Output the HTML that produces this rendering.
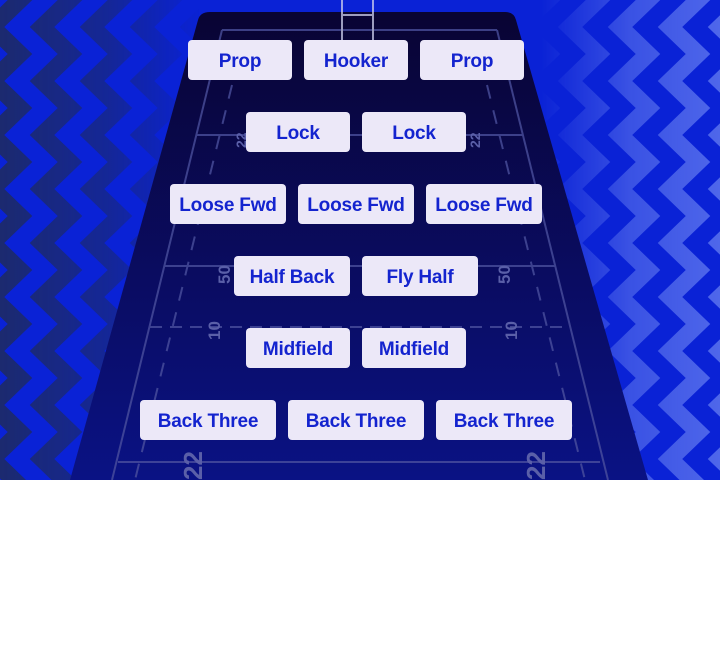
<!DOCTYPE html>
<html><head><meta charset="utf-8"><style>
body{margin:0;width:720px;height:648px;background:#fff;overflow:hidden;font-family:"Liberation Sans",sans-serif}
#wrap{position:relative;width:720px;height:480px;overflow:hidden;background:#0a22d6}
svg{position:absolute;left:0;top:0}
.pos{position:absolute;height:40px;background:#ece8f8;border-radius:4px;color:#1424cf;font-weight:bold;font-size:19px;line-height:43px;text-align:center;letter-spacing:-0.2px}
</style></head><body>
<div id="wrap">
<svg width="720" height="480">
<defs>
<linearGradient id="fadeL" x1="0" x2="1"><stop offset="0" stop-color="#fff" stop-opacity="1"/><stop offset="0.55" stop-color="#fff" stop-opacity="0.6"/><stop offset="1" stop-color="#fff" stop-opacity="0"/></linearGradient>
<mask id="mL"><rect x="0" y="0" width="200" height="480" fill="url(#fadeL)"/></mask>
<linearGradient id="fadeR" x1="0" x2="1"><stop offset="0" stop-color="#fff" stop-opacity="0"/><stop offset="0.5" stop-color="#fff" stop-opacity="0.7"/><stop offset="1" stop-color="#fff" stop-opacity="1"/></linearGradient>
<mask id="mR"><rect x="540" y="0" width="180" height="480" fill="url(#fadeR)"/></mask>
<linearGradient id="fg" x1="0" y1="0" x2="0" y2="1"><stop offset="0" stop-color="#090433"/><stop offset="1" stop-color="#0a1284"/></linearGradient>
</defs>
<g id="chevL" mask="url(#mL)"></g>
<g id="chevR" mask="url(#mR)"></g>
<path d="M210 12 L505 12 Q514 12 516 20 L648 480 L70 480 L198 20 Q200 12 210 12 Z" fill="url(#fg)"/>
<g stroke="#4e53a0" stroke-width="2" fill="none" opacity="0.75">
<line x1="222" y1="30" x2="112" y2="480"/>
<line x1="497" y1="30" x2="608" y2="480"/>
<line x1="222" y1="30" x2="497" y2="30"/>
<line x1="196" y1="135" x2="523" y2="135"/>
<line x1="165" y1="266" x2="556" y2="266"/>
<line x1="118" y1="462" x2="600" y2="462"/>
<line x1="150" y1="327" x2="570" y2="327" stroke-dasharray="12 8"/>
<line x1="232" y1="85" x2="135" y2="480" stroke-dasharray="14 12"/>
<line x1="487" y1="85" x2="585" y2="480" stroke-dasharray="14 12"/>
<line x1="342" y1="0" x2="342" y2="40" stroke="#cfd0ee"/>
<line x1="373" y1="0" x2="373" y2="40" stroke="#cfd0ee"/>
<line x1="342" y1="15" x2="373" y2="15" stroke="#cfd0ee"/>
</g>
<g fill="#5a5fa8" font-weight="bold" font-family="Liberation Sans">
<text transform="translate(246,148) rotate(-90)" font-size="14">22</text>
<text transform="translate(480,148) rotate(-90)" font-size="14">22</text>
<text transform="translate(230,284) rotate(-90)" font-size="17">50</text>
<text transform="translate(510,284) rotate(-90)" font-size="17">50</text>
<text transform="translate(220,340) rotate(-90)" font-size="17">10</text>
<text transform="translate(517,340) rotate(-90)" font-size="17">10</text>
<text transform="translate(202,480) rotate(-90)" font-size="26">22</text>
<text transform="translate(545,480) rotate(-90)" font-size="26">22</text>
</g>
</svg>
<div class="pos" style="left:188px;top:40px;width:104px">Prop</div>
<div class="pos" style="left:304px;top:40px;width:104px">Hooker</div>
<div class="pos" style="left:420px;top:40px;width:104px">Prop</div>
<div class="pos" style="left:246px;top:112px;width:104px">Lock</div>
<div class="pos" style="left:362px;top:112px;width:104px">Lock</div>
<div class="pos" style="left:170px;top:184px;width:116px">Loose Fwd</div>
<div class="pos" style="left:298px;top:184px;width:116px">Loose Fwd</div>
<div class="pos" style="left:426px;top:184px;width:116px">Loose Fwd</div>
<div class="pos" style="left:234px;top:256px;width:116px">Half Back</div>
<div class="pos" style="left:362px;top:256px;width:116px">Fly Half</div>
<div class="pos" style="left:246px;top:328px;width:104px">Midfield</div>
<div class="pos" style="left:362px;top:328px;width:104px">Midfield</div>
<div class="pos" style="left:140px;top:400px;width:136px">Back Three</div>
<div class="pos" style="left:288px;top:400px;width:136px">Back Three</div>
<div class="pos" style="left:436px;top:400px;width:136px">Back Three</div>
</div>
<script>
function zig(g,x0,dir,color){
  var ns='http://www.w3.org/2000/svg';
  for(var c=0;c<6;c++){
    var x=x0+c*50,d='M'+x+' -27';
    for(var y=-27;y<510;y+=54){d+=' L'+(x+dir*28)+' '+(y+27)+' L'+x+' '+(y+54);}
    var p=document.createElementNS(ns,'path');
    p.setAttribute('d',d);p.setAttribute('stroke',color);p.setAttribute('stroke-width','17');p.setAttribute('fill','none');
    
    
    g.appendChild(p);
  }
}
zig(document.getElementById('chevL'),-8,1,'#1c2a6e');
zig(document.getElementById('chevR'),520,1,'#4f67ea');
</script>
</body></html>
